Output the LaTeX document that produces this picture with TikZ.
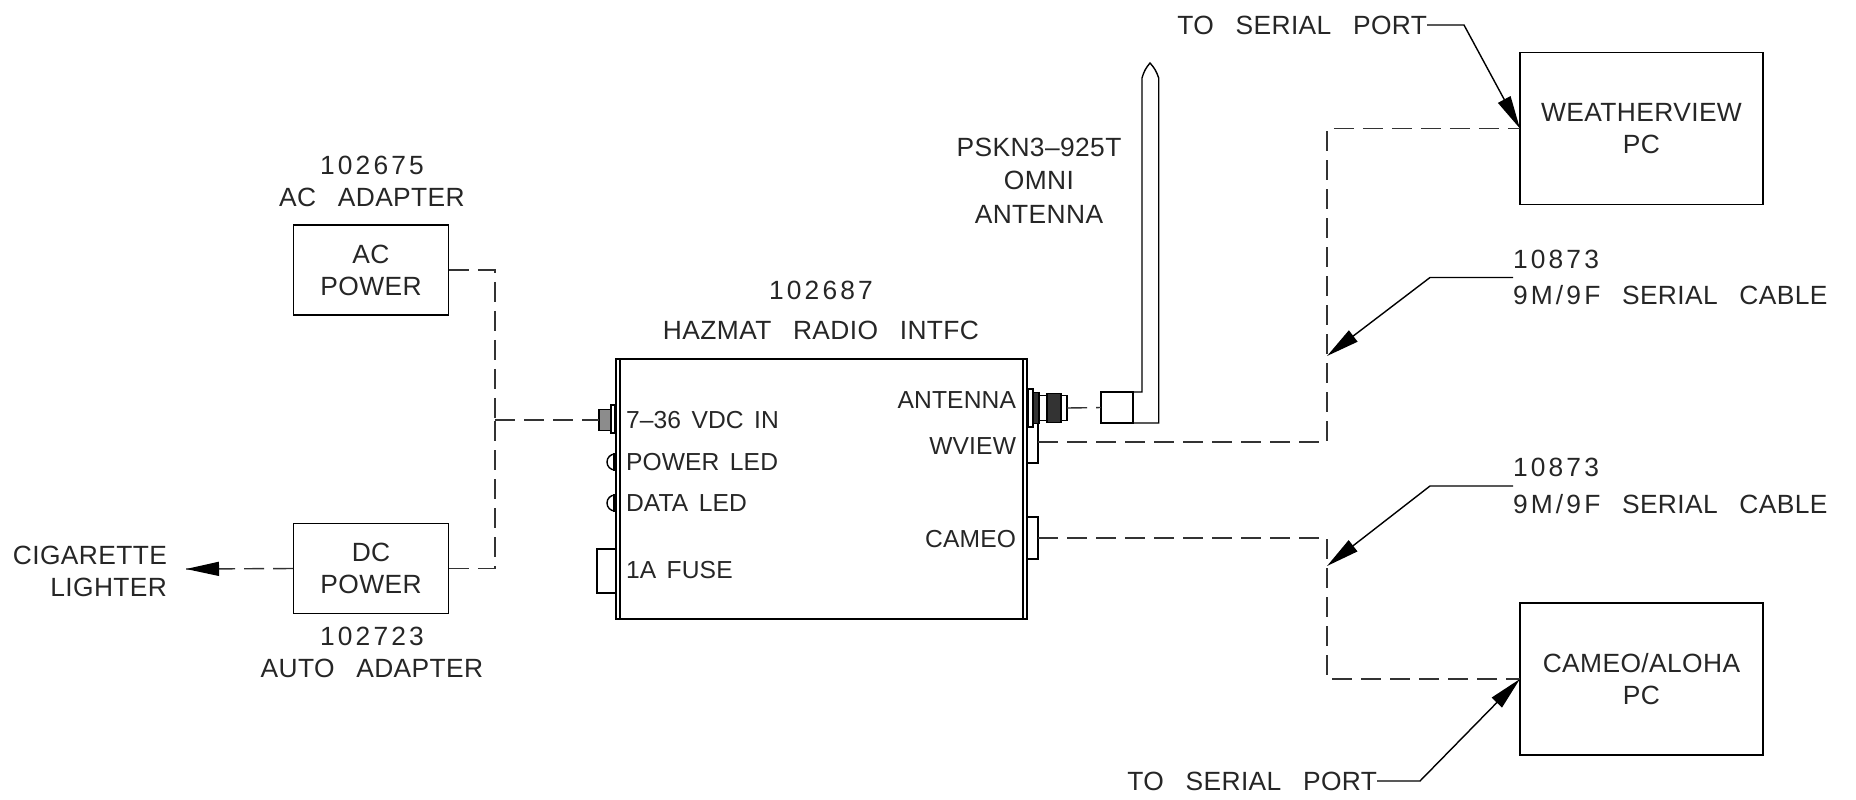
\documentclass[tikz,border=0pt]{standalone}
\usepackage{fontspec}
\setmainfont[LetterSpace=1.5,WordSpace=2.8]{Liberation Sans}
\newfontfamily\numfont[LetterSpace=12]{Liberation Sans}
\newfontfamily\panelfont[LetterSpace=0.5,WordSpace=1.5]{Liberation Sans}
\usepackage{tikz}
\usetikzlibrary{arrows.meta,positioning,calc}

\begin{document}
\begin{tikzpicture}[
  x=0.01cm, y=-0.01cm, line width=0.4pt,
  lbl/.style={inner sep=0, outer sep=0, align=center, font=\fontsize{7.5}{9.1}\selectfont, text=black!85},
  lleft/.style={lbl, anchor=west, align=left},
  panel/.style={lbl, font=\panelfont\fontsize{7}{9.1}\selectfont},
  pleft/.style={panel, anchor=west},
  pright/.style={panel, anchor=east},
  boxnode/.style={draw, lbl, minimum width=1.555cm, minimum height=0.9cm},
  pcbox/.style={draw, lbl, minimum width=2.43cm, minimum height=1.52cm},
  part/.style={draw, fill=white, inner sep=0, outer sep=0},
  thread/.style={part, fill=black!80},
  cable/.style={dash pattern=on 0.2cm off 0.09cm, black!80},
  arr/.style={-{Triangle[length=0.33cm,width=0.14cm]}}
]
  \useasboundingbox (0,0) rectangle (1856,799);

  % power side
  \node[boxnode] (ac) at (371,270) {AC\\POWER};
  \node[boxnode] (dc) at (371,568.5) {DC\\POWER};
  \node[lbl] (aclbl) at (372,181) {{\numfont 102675}\\AC ADAPTER};
  \node[lbl] (dclbl) at (372,652) {{\numfont 102723}\\AUTO ADAPTER};
  \node[lbl, align=right, anchor=east] (lighter) at (167,571) {CIGARETTE\\LIGHTER};
  \coordinate (lightertip) at (186,569);

  % radio interface
  \node[part, minimum width=0.19cm, minimum height=0.44cm] (fuse) at (606.5,571) {};
  \node[part, minimum width=0.11cm, minimum height=0.46cm] (wview) at (1032.5,440) {};
  \node[part, minimum width=0.11cm, minimum height=0.42cm] (cameo) at (1032.5,538) {};
  \node[draw, inner sep=0, outer sep=0, minimum width=4.11cm, minimum height=2.6cm] (radio) at (821.5,489) {};
  \draw ([xshift=0.04cm]radio.north west) -- ([xshift=0.04cm]radio.south west);
  \draw ([xshift=-0.04cm]radio.north east) -- ([xshift=-0.04cm]radio.south east);
  \node[lbl] (radiolbl) at (821,310) {{\numfont 102687}\\[0.08cm]HAZMAT RADIO INTFC};

  \node[thread, fill=black!45, minimum width=0.13cm, minimum height=0.21cm] (vdc) at (605.5,420) {};
  \node[part, line width=0.7pt, minimum width=0.04cm, minimum height=0.28cm] (vdcnut) at (613,419) {};
  \draw (615,454) arc (90:270:0.08cm);
  \draw (615,495) arc (90:270:0.08cm);
  \draw[line width=1pt] (615,453) -- (615,471) (615,494) -- (615,512);

  \node[pleft] (vdclbl) at (626,420) {7–36 VDC IN};
  \node[pleft] (powerlbl) at (626,462) {POWER LED};
  \node[pleft] (datalbl) at (626,503) {DATA LED};
  \node[pleft] (fuselbl) at (626,570) {1A FUSE};
  \node[pright] (antlbl) at (1016,400) {ANTENNA};
  \node[pright] (wviewlbl) at (1016,446) {WVIEW};
  \node[pright] (cameolbl) at (1016,539) {CAMEO};

  % antenna
  \node[part, minimum width=0.05cm, minimum height=0.38cm] (nut) at (1030.5,408) {};
  \node[thread, minimum width=0.06cm, minimum height=0.31cm] (nutb) at (1036,408) {};
  \node[part, minimum width=0.08cm, minimum height=0.25cm] (neck) at (1043,408) {};
  \node[part, minimum width=0.06cm, minimum height=0.25cm] (plug) at (1064,408) {};
  \node[thread, minimum width=0.14cm, minimum height=0.29cm] (sma) at (1054,408) {};
  \node[part, minimum width=0.32cm, minimum height=0.31cm] (antbase) at (1117,407.5) {};
  \draw[line width=0.7pt] (antbase.north east) -- (antbase.south east);
  \draw (antbase.north east) -- (1142,392) -- (1142,78) to[bend left=12] (1150,63) to[bend left=12] (1158.7,78) -- (1158.7,423) -- (antbase.south east);
  \node[lbl] (antname) at (1039,180.5) {PSKN3–925T\\[0.015cm]OMNI\\[0.015cm]ANTENNA};

  % computers
  \node[pcbox] (wxpc) at (1641.5,128.5) {WEATHERVIEW\\PC};
  \node[pcbox] (alohapc) at (1641.5,679) {CAMEO/ALOHA\\PC};

  % cables
  \coordinate (bus) at (495,420);
  \draw[cable] (ac.east) -| (bus);
  \draw[cable] (dc.east) -| (bus);
  \draw[cable] (bus) -- (vdc.west);
  \draw[cable] (dc.west) -- (lightertip);
  \draw[arr, black] ($(dc.west)!0.7!(lightertip)$) -- (lightertip);
  \draw[cable] (plug.east) -- (antbase.west);
  \coordinate (wxjog) at (1327,442);
  \coordinate (alohajog) at (1327,538);
  \draw[cable] (wview.east |- wxjog) -- (wxjog) |- (wxpc.west);
  \draw[cable] (cameo.east) -- (alohajog) |- (alohapc.west);

  % callouts
  \node[lbl, anchor=east] (topport) at (1427,25) {TO SERIAL PORT};
  \node[lbl, anchor=east] (botport) at (1377,781) {TO SERIAL PORT};
  \node[lleft] (cablea) at (1513,277.5) {{\numfont 10873}\\[0.047cm]{\numfont 9M/9F} SERIAL CABLE};
  \node[lleft] (cableb) at (1513,486) {{\numfont 10873}\\[0.047cm]{\numfont 9M/9F} SERIAL CABLE};
  \coordinate (cableatip) at (1327,356);
  \coordinate (cablebtip) at (1327,566);
  \draw[arr] (topport.east) -- (1464,25) -- (wxpc.west);
  \draw[arr] (botport.east) -- (1420,781) -- (alohapc.west);
  \draw[arr] (cablea.west) -- (1430,277.5) -- (cableatip);
  \draw[arr] (cableb.west) -- (1430,486) -- (cablebtip);
\end{tikzpicture}
\end{document}
